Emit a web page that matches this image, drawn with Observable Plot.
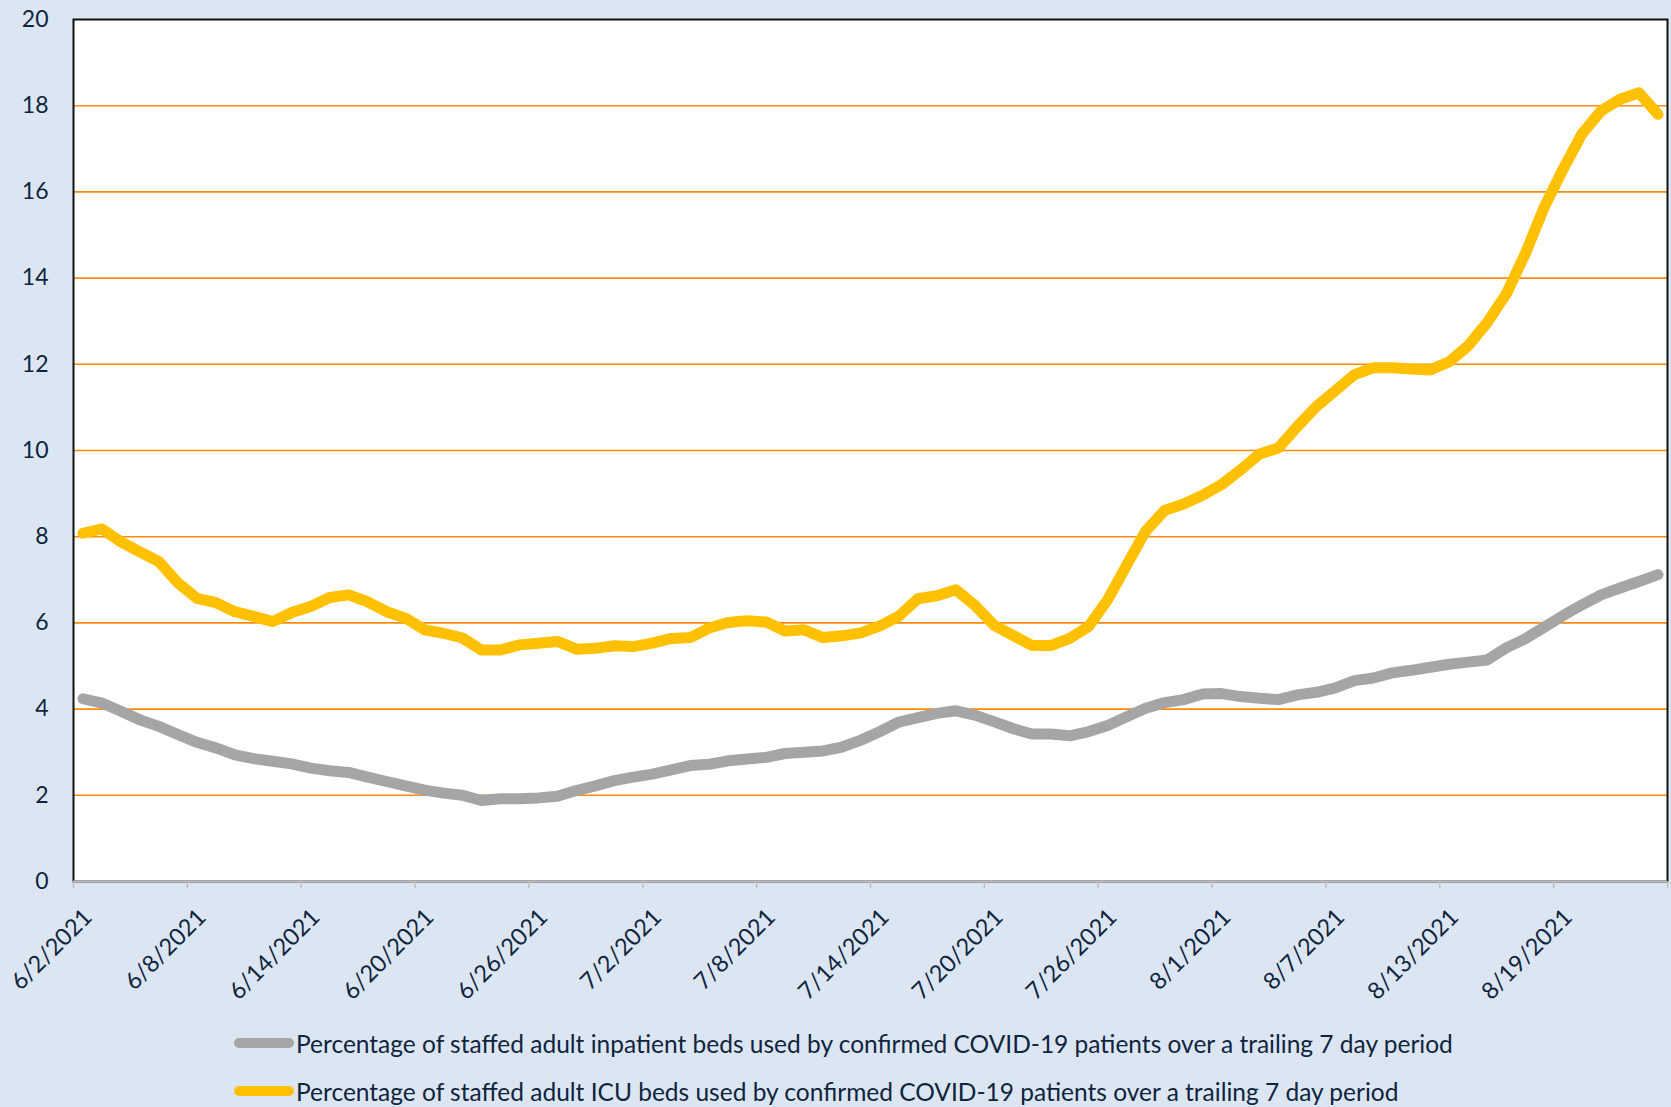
<!DOCTYPE html>
<html><head><meta charset="utf-8">
<script src="https://cdn.jsdelivr.net/npm/d3@7"></script>
<script src="https://cdn.jsdelivr.net/npm/@observablehq/plot@0.6"></script>
<style>
html,body{margin:0;padding:0;background:#DCE6F2;}
body{width:1671px;height:1107px;position:relative;overflow:hidden;font-family:Lato,sans-serif;color:#0F243E;}
#chart{position:absolute;left:0;top:0;}
#legend{position:absolute;left:234px;top:1019px;}
.row{height:48px;display:flex;align-items:center;font-size:24.5px;white-space:nowrap;}
.sw{width:60px;height:10px;border-radius:5px;margin-right:2px;}
</style></head><body>
<div id="chart"></div>
<div id="legend"></div>
<script>
// Daily values, 6/2/2021 .. 8/24/2021
const inpatient = [
  4.24, 4.14, 3.95, 3.75, 3.60, 3.41, 3.23, 3.10, 2.94, 2.85,
  2.79, 2.73, 2.63, 2.57, 2.53, 2.42, 2.32, 2.22, 2.12, 2.05,
  2.00, 1.88, 1.92, 1.92, 1.94, 1.98, 2.11, 2.22, 2.34, 2.42,
  2.49, 2.59, 2.69, 2.72, 2.80, 2.84, 2.88, 2.97, 3.00, 3.03,
  3.12, 3.28, 3.48, 3.70, 3.80, 3.90, 3.96, 3.86, 3.71, 3.55,
  3.42, 3.42, 3.38, 3.48, 3.62, 3.82, 4.02, 4.15, 4.22, 4.35,
  4.36, 4.29, 4.25, 4.22, 4.33, 4.39, 4.49, 4.66, 4.72, 4.84,
  4.90, 4.97, 5.04, 5.09, 5.14, 5.42, 5.63, 5.90, 6.17, 6.42,
  6.65, 6.81, 6.96, 7.12
];
const icu = [
  8.08, 8.18, 7.88, 7.65, 7.42, 6.93, 6.57, 6.47, 6.26, 6.15,
  6.03, 6.24, 6.38, 6.59, 6.65, 6.49, 6.26, 6.11, 5.84, 5.76,
  5.65, 5.37, 5.37, 5.49, 5.53, 5.57, 5.39, 5.41, 5.47, 5.45,
  5.53, 5.64, 5.66, 5.88, 6.01, 6.05, 6.02, 5.81, 5.84, 5.66,
  5.70, 5.77, 5.93, 6.16, 6.56, 6.63, 6.77, 6.41, 5.95, 5.71,
  5.48, 5.47, 5.64, 5.92, 6.54, 7.34, 8.13, 8.61, 8.76, 8.96,
  9.21, 9.55, 9.92, 10.06, 10.56, 11.02, 11.39, 11.76, 11.92, 11.92,
  11.89, 11.87, 12.06, 12.43, 12.97, 13.63, 14.56, 15.64, 16.53, 17.35,
  17.88, 18.15, 18.30, 17.80
];
const startDay = "2021-06-02";
const endDay = "2021-08-25";
const tickDays = ["2021-06-02","2021-06-08","2021-06-14","2021-06-20","2021-06-26","2021-07-02","2021-07-08",
  "2021-07-14","2021-07-20","2021-07-26","2021-08-01","2021-08-07","2021-08-13","2021-08-19","2021-08-25"];
const tickLabels = ["6/2/2021","6/8/2021","6/14/2021","6/20/2021","6/26/2021","7/2/2021","7/8/2021",
  "7/14/2021","7/20/2021","7/26/2021","8/1/2021","8/7/2021","8/13/2021","8/19/2021",""];
const yTicks = [0, 2, 4, 6, 8, 10, 12, 14, 16, 18, 20];
const gridValues = [2, 4, 6, 8, 10, 12, 14, 16, 18];
const seriesNames = [
  "Percentage of staffed adult inpatient beds used by confirmed COVID-19 patients over a trailing 7 day period",
  "Percentage of staffed adult ICU beds used by confirmed COVID-19 patients over a trailing 7 day period"
];
const seriesColors = ["#A5A5A5", "#FFC000"];

const d0 = new Date(startDay + "T00:00:00Z");
const dEnd = new Date(endDay + "T00:00:00Z");
const toRows = (vals) => vals.map((v, i) => ({date: d3.utcHour.offset(d3.utcDay.offset(d0, i), 12), value: v}));
const inpRows = toRows(inpatient);
const icuRows = toRows(icu);
const ticks = tickDays.map((s, i) => ({date: new Date(s + "T00:00:00Z"), label: tickLabels[i]}));

const textColor = "#0F243E";
const chart = Plot.plot({
  width: 1671, height: 1015,
  marginLeft: 73, marginRight: 4, marginTop: 19, marginBottom: 134,
  style: {background: "transparent", fontFamily: "Lato, sans-serif", color: textColor, overflow: "visible"},
  x: {type: "utc", domain: [d0, dEnd], axis: null},
  y: {domain: [0, 20], axis: null},
  marks: [
    Plot.frame({fill: "white", stroke: null}),
    Plot.ruleY(gridValues, {stroke: "#FF8A0D", strokeWidth: 1.6}),
    Plot.frame({stroke: "#111", strokeWidth: 2}),
    Plot.ruleY([0], {stroke: "#BFBFBF", strokeWidth: 2}),
    Plot.axisX({ticks: ticks.map(d => d.date), tickSize: 7, tickFormat: () => "", stroke: "#BFBFBF", strokeWidth: 1.5, label: null}),
    Plot.line(inpRows, {x: "date", y: "value", stroke: seriesColors[0], strokeWidth: 11, strokeLinecap: "round", strokeLinejoin: "round"}),
    Plot.line(icuRows, {x: "date", y: "value", stroke: seriesColors[1], strokeWidth: 11, strokeLinecap: "round", strokeLinejoin: "round"}),
    Plot.axisY({ticks: yTicks, tickSize: 0, tickPadding: 25, fontSize: 23, anchor: "left", tickFormat: d => String(d), fill: textColor, label: null}),
    Plot.text(ticks, {x: "date", frameAnchor: "bottom", text: "label", rotate: -45, textAnchor: "end", dx: 20, dy: 37, fontSize: 23.5, fill: textColor})
  ]
});
document.getElementById("chart").appendChild(chart);

const legend = document.getElementById("legend");
seriesNames.forEach((name, i) => {
  const row = document.createElement("div");
  row.className = "row";
  const sw = document.createElement("span");
  sw.className = "sw";
  sw.style.background = seriesColors[i];
  const t = document.createElement("span");
  t.textContent = name;
  row.appendChild(sw); row.appendChild(t);
  legend.appendChild(row);
});
</script>
</body></html>
